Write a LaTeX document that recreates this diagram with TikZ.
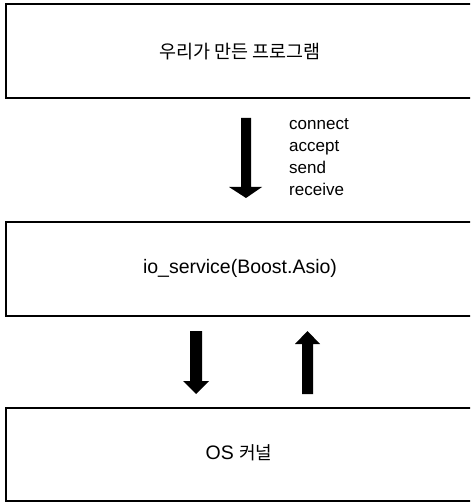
\documentclass[tikz,border=0pt]{standalone}
\usepackage{fontspec}
\setmainfont{Liberation Sans}
\newfontfamily\kr{Noto Sans CJK KR}
\begin{document}
\begin{tikzpicture}[x=1pt,y=-1pt,
  box/.style={draw=black,line width=1.6pt,fill=white},
  lbl/.style={font=\fontsize{19.5}{22}\selectfont,inner sep=0pt},
  lst/.style={font=\fontsize{17}{22}\selectfont,inner sep=0pt},
  blockarrow/.style={fill=black,draw=none}]
\useasboundingbox (0,0) rectangle (470,502);
\clip (0,0) rectangle (470,502);
\fill[white] (0,0) rectangle (470,502);
% boxes
\draw[box] (6,4) rectangle (490,98);
\node[lbl] (prog) at (240,52) {\kr\fontsize{18.5}{22}\selectfont 우리가 만든 프로그램};
\draw[box] (6,222) rectangle (490,316);
\node[lbl] (asio) at (240,268) {io\_service(Boost.Asio)};
\draw[box] (6,408) rectangle (490,501);
\node[lbl] (os) at (239,453) {OS {\kr\fontsize{18}{22}\selectfont 커널}};
% arrow 1 (down)
\fill[blockarrow] (241,118) -- (251,118) -- (251,187) -- (262,187) -- (246,198) -- (229,187) -- (241,187) -- cycle;
\node[lst,anchor=north west,align=left] (ops) at (289,118) {connect\\accept\\send\\receive};
% arrow 2 (down)
\fill[blockarrow] (190,331) -- (202,331) -- (202,381) -- (209,381) -- (196,394) -- (183,381) -- (190,381) -- cycle;
% arrow 3 (up)
\fill[blockarrow] (302,394) -- (313,394) -- (313,344) -- (320,344) -- (307.5,331) -- (295,344) -- (302,344) -- cycle;
\end{tikzpicture}
\end{document}
